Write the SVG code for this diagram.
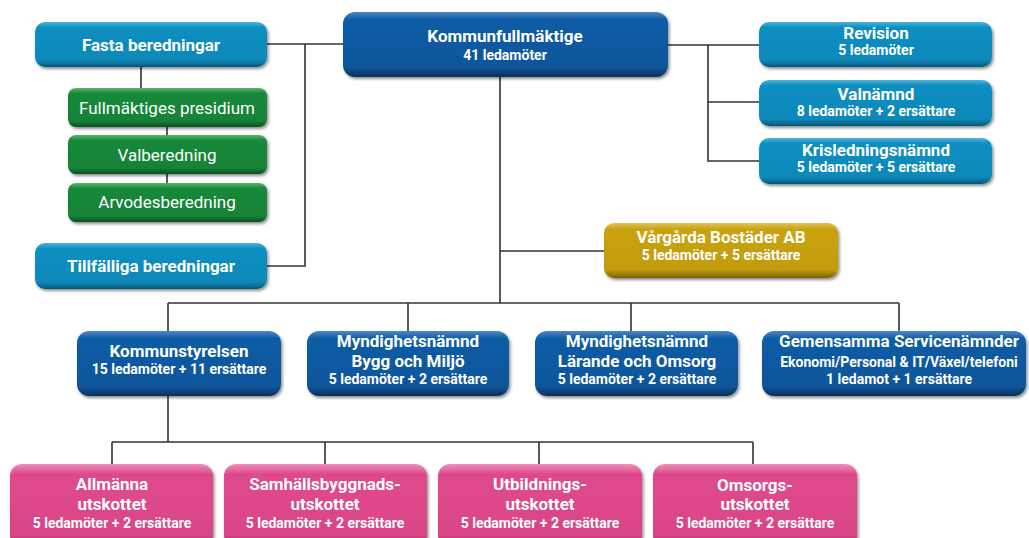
<svg xmlns="http://www.w3.org/2000/svg" width="1029" height="538" viewBox="0 0 1029 538">
<defs>
<linearGradient id="gLB" x1="0" y1="0" x2="0" y2="1"><stop offset="0" stop-color="#4fb3dc"/><stop offset="0.12" stop-color="#0c8fc2"/><stop offset="0.85" stop-color="#0a88b9"/><stop offset="1" stop-color="#05587a"/></linearGradient>
<linearGradient id="gDB" x1="0" y1="0" x2="0" y2="1"><stop offset="0" stop-color="#4f86c2"/><stop offset="0.12" stop-color="#0e5ca5"/><stop offset="0.85" stop-color="#0b569b"/><stop offset="1" stop-color="#062f5c"/></linearGradient>
<linearGradient id="gGR" x1="0" y1="0" x2="0" y2="1"><stop offset="0" stop-color="#5bb46f"/><stop offset="0.14" stop-color="#16893a"/><stop offset="0.85" stop-color="#138236"/><stop offset="1" stop-color="#0a4e1f"/></linearGradient>
<linearGradient id="gGO" x1="0" y1="0" x2="0" y2="1"><stop offset="0" stop-color="#e0c35a"/><stop offset="0.12" stop-color="#c9a20c"/><stop offset="0.85" stop-color="#c29c0a"/><stop offset="1" stop-color="#7a6205"/></linearGradient>
<linearGradient id="gPK" x1="0" y1="0" x2="0" y2="1"><stop offset="0" stop-color="#ef8fba"/><stop offset="0.12" stop-color="#df4a8c"/><stop offset="0.85" stop-color="#d94587"/><stop offset="1" stop-color="#8e2456"/></linearGradient>
<filter id="sh" x="-5%" y="-10%" width="112%" height="130%"><feDropShadow dx="1.5" dy="2" stdDeviation="1.5" flood-color="#000" flood-opacity="0.45"/></filter>
</defs>
<style>
.b{filter:url(#sh)}
.lb{fill:url(#gLB)}.db{fill:url(#gDB)}.gr{fill:url(#gGR)}.go{fill:url(#gGO)}.pk{fill:url(#gPK)}
text{font-family:Roboto,"Liberation Sans",sans-serif;fill:#fff;text-anchor:middle}
.t{font-size:17px;font-weight:bold}
.s{font-size:14px;font-weight:bold}
.r{font-size:17px;font-weight:normal}
.c{fill:none;stroke:#333;stroke-width:1.6}
</style>
<g id="connectors">
<path class="c" d="M267 44H343M305 44V266H267M141 67V88M167 127V135M167 174V183"/>
<path class="c" d="M668 45H759M708 45V161H759M708 102H759"/>
<path class="c" d="M500 77V303M500 251H604M168 303H899M168 303V331M408 303V331M631 303V331M899 303V331"/>
<path class="c" d="M168 396V442M112 442H753M112 442V464M325 442V464M539 442V464M753 442V464"/>
</g>
<g id="fasta"><rect class="b lb" x="35" y="22" width="232" height="45" rx="10"/><text class="t" x="151" y="51">Fasta beredningar</text></g>
<g id="presidium"><rect class="b gr" x="68" y="88" width="199" height="39" rx="8"/><text class="r" x="167" y="114">Fullmäktiges presidium</text></g>
<g id="valberedning"><rect class="b gr" x="68" y="135" width="199" height="39" rx="8"/><text class="r" x="167" y="161">Valberedning</text></g>
<g id="arvodes"><rect class="b gr" x="68" y="183" width="199" height="39" rx="8"/><text class="r" x="167" y="208">Arvodesberedning</text></g>
<g id="tillfalliga"><rect class="b lb" x="35" y="243" width="232" height="46" rx="10"/><text class="t" x="151" y="272">Tillfälliga beredningar</text></g>
<g id="kf"><rect class="b db" x="343" y="12" width="325" height="65" rx="12"/><text class="t" x="505" y="42">Kommunfullmäktige</text><text class="s" x="505" y="60">41 ledamöter</text></g>
<g id="revision"><rect class="b lb" x="759" y="22" width="233" height="45" rx="10"/><text class="t" x="876" y="39">Revision</text><text class="s" x="876" y="55">5 ledamöter</text></g>
<g id="valnamnd"><rect class="b lb" x="759" y="80" width="233" height="46" rx="10"/><text class="t" x="876" y="100">Valnämnd</text><text class="s" x="876" y="116">8 ledamöter + 2 ersättare</text></g>
<g id="kris"><rect class="b lb" x="759" y="138" width="233" height="46" rx="10"/><text class="t" x="876" y="156">Krisledningsnämnd</text><text class="s" x="876" y="172">5 ledamöter + 5 ersättare</text></g>
<g id="vargarda"><rect class="b go" x="604" y="223" width="234" height="55" rx="10"/><text class="t" x="721" y="243">Vårgårda Bostäder AB</text><text class="s" x="721" y="260">5 ledamöter + 5 ersättare</text></g>
<g id="ks"><rect class="b db" x="77" y="331" width="204" height="65" rx="12"/><text class="t" x="179" y="357">Kommunstyrelsen</text><text class="s" x="179" y="374">15 ledamöter + 11 ersättare</text></g>
<g id="bygg"><rect class="b db" x="307" y="331" width="202" height="65" rx="12"/><text class="t" x="408" y="347">Myndighetsnämnd</text><text class="t" x="408" y="367">Bygg och Miljö</text><text class="s" x="408" y="384">5 ledamöter + 2 ersättare</text></g>
<g id="larande"><rect class="b db" x="535" y="331" width="203" height="65" rx="12"/><text class="t" x="637" y="347">Myndighetsnämnd</text><text class="t" x="637" y="367">Lärande och Omsorg</text><text class="s" x="637" y="384">5 ledamöter + 2 ersättare</text></g>
<g id="gemensamma"><rect class="b db" x="762" y="331" width="264" height="65" rx="12"/><text class="t" x="899" y="347">Gemensamma Servicenämnder</text><text class="s" x="899" y="367">Ekonomi/Personal &amp; IT/Växel/telefoni</text><text class="s" x="899" y="384">1 ledamot + 1 ersättare</text></g>
<g id="allmanna"><rect class="b pk" x="10" y="464" width="203" height="84" rx="12"/><text class="t" x="112" y="490">Allmänna</text><text class="t" x="112" y="510">utskottet</text><text class="s" x="112" y="528">5 ledamöter + 2 ersättare</text></g>
<g id="samhall"><rect class="b pk" x="224" y="464" width="203" height="84" rx="12"/><text class="t" x="325" y="490">Samhällsbyggnads-</text><text class="t" x="325" y="510">utskottet</text><text class="s" x="325" y="528">5 ledamöter + 2 ersättare</text></g>
<g id="utbildning"><rect class="b pk" x="438" y="464" width="204" height="84" rx="12"/><text class="t" x="540" y="490">Utbildnings-</text><text class="t" x="540" y="510">utskottet</text><text class="s" x="540" y="528">5 ledamöter + 2 ersättare</text></g>
<g id="omsorg"><rect class="b pk" x="653" y="464" width="204" height="84" rx="12"/><text class="t" x="755" y="491">Omsorgs-</text><text class="t" x="755" y="510">utskottet</text><text class="s" x="755" y="528">5 ledamöter + 2 ersättare</text></g>
</svg>
